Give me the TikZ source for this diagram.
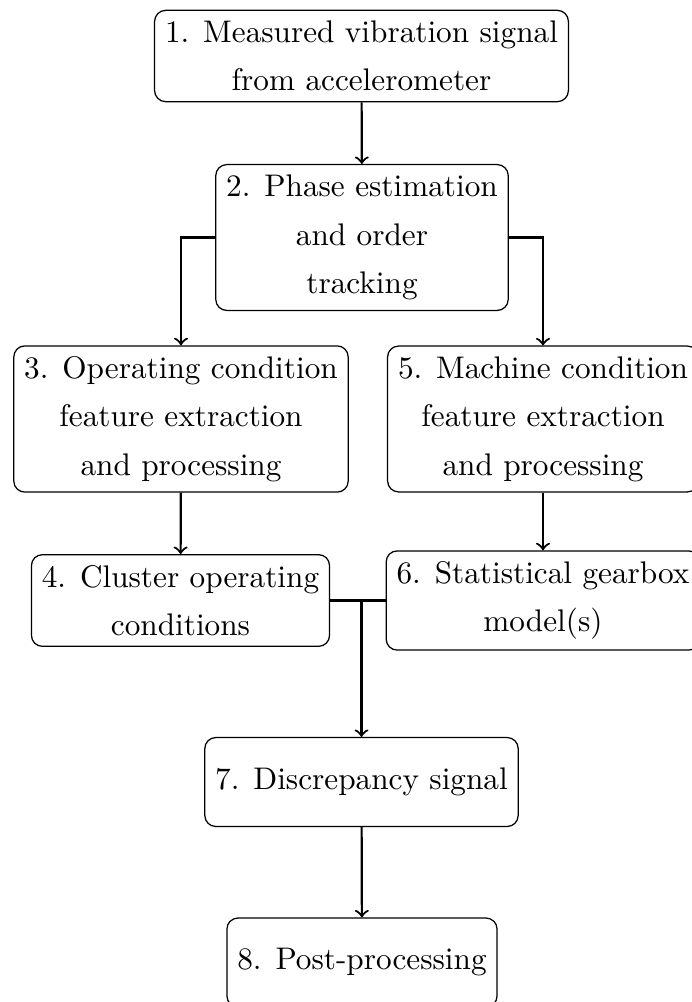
\documentclass[tikz,border=0pt]{standalone}
\usetikzlibrary{arrows}
\tikzset{
  stepbox/.style={draw, rectangle, rounded corners=3.5pt, align=center,
    minimum height=1cm, inner sep=0.3333em, line width=0.4pt,
    font=\fontsize{10pt}{15.5pt}\selectfont},
  conn/.style={line width=0.7pt},
  arr/.style={conn, ->}
}
\begin{document}
\begin{tikzpicture}[x=0.32pt, y=-0.32pt]
\useasboundingbox (0,0) rectangle (691,1002);
\node[stepbox] (n1) at (361.5,56) {1. Measured vibration signal\\from accelerometer};
\node[stepbox] (n2) at (362,237.5) {2. Phase estimation\\and order\\tracking};
\node[stepbox] (n3) at (181,419) {3. Operating condition\\feature extraction\\and processing};
\node[stepbox] (n5) at (543,419) {5. Machine condition\\feature extraction\\and processing};
\node[stepbox] (n4) at (180.5,600.5) {4. Cluster operating\\conditions};
\node[stepbox] (n6) at (543,600.5) {6. Statistical gearbox\\model(s)};
\node[stepbox] (n7) at (361.5,782) {7. Discrepancy signal};
\node[stepbox] (n8) at (362,962.5) {8. Post-processing};
\draw[arr] (n1) -- (n2);
\draw[arr] (n2.west) -| (n3.north);
\draw[arr] (n2.east) -| (n5.north);
\draw[arr] (n3) -- (n4);
\draw[arr] (n5) -- (n6);
\draw[conn] (n4.east) -- (n6.west);
\coordinate (j) at (n7.north |- n4.east);
\draw[arr] (j) -- (n7.north);
\draw[arr] (n7) -- (n8);
\end{tikzpicture}
\end{document}
